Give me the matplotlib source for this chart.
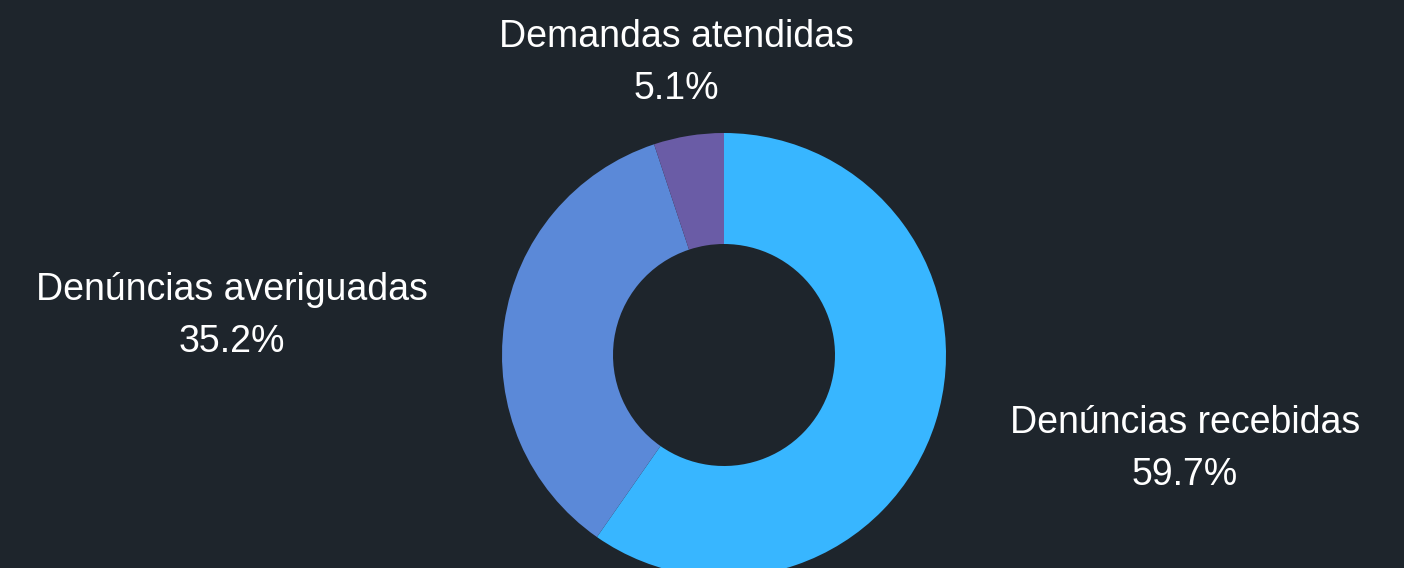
import matplotlib
matplotlib.use("Agg")
import matplotlib.pyplot as plt
import numpy as np

categories = ["Denúncias recebidas", "Denúncias averiguadas", "Demandas atendidas"]
values = [59.7, 35.2, 5.1]
colors = ["#38b6ff", "#5b89d8", "#6a5ca6"]
bg = "#1e252c"

W, H = 1404, 568
fig = plt.figure(figsize=(W / 100, H / 100), dpi=100, facecolor=bg)
ax = fig.add_axes([0, 0, 1, 1])
ax.set_facecolor(bg)

cx, cy, R = 724, H - 355, 222
wedges, _ = ax.pie(values, colors=colors, startangle=90, counterclock=False,
                   center=(cx, cy), radius=R, frame=True,
                   wedgeprops=dict(width=R / 2, linewidth=0))
ax.set_xlim(0, W)
ax.set_ylim(0, H)
ax.set_aspect("equal")
ax.axis("off")

total = sum(values)
for w, name, v in zip(wedges, categories, values):
    ang = np.deg2rad((w.theta1 + w.theta2) / 2)
    r = R * 1.35
    x = cx + r * np.cos(ang)
    y = cy + r * np.sin(ang) - 4
    if abs(np.cos(ang)) < 0.3:
        ha = "center"
    elif np.cos(ang) > 0:
        ha = "left"
    else:
        ha = "right"
    ax.text(x, y, f"{name}\n{v / total * 100:.1f}%", ha=ha, va="center",
            multialignment="center", color="white", fontsize=27,
            family="Liberation Sans", linespacing=1.55)

fig.savefig("out.png", dpi=100, facecolor=bg)
